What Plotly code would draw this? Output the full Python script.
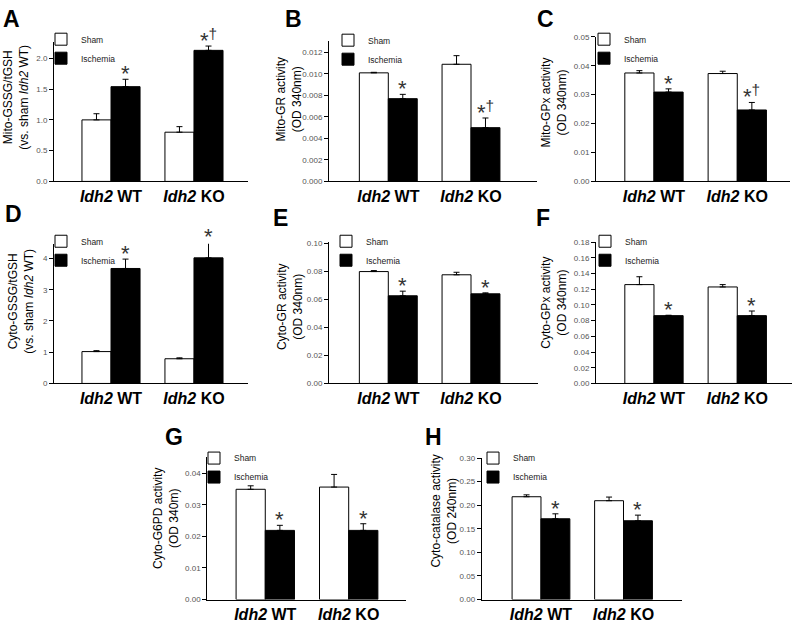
import plotly.graph_objects as go

W, H = 796, 624
FONT = "Liberation Sans, Arial, sans-serif"

# ---------------- data ----------------
group_labels = ["<i>Idh2</i> WT", "<i>Idh2</i> KO"]
series_names = ["Sham", "Ischemia"]

A_sham = [1.00, 0.80];        A_sham_err = [0.10, 0.09]
A_isch = [1.54, 2.13];        A_isch_err = [0.12, 0.07]
A_sig = ["*", "*<sup>†</sup>"]

B_sham = [0.0101, 0.0109];    B_sham_err = [0.00005, 0.0008]
B_isch = [0.0077, 0.0050];    B_isch_err = [0.0004, 0.0009]
B_sig = ["*", "*<sup>†</sup>"]

C_sham = [0.0375, 0.0373];    C_sham_err = [0.0008, 0.0008]
C_isch = [0.0309, 0.0247];    C_isch_err = [0.0011, 0.0026]
C_sig = ["*", "*<sup>†</sup>"]

D_sham = [1.02, 0.79];        D_sham_err = [0.03, 0.03]
D_isch = [3.68, 4.02];        D_isch_err = [0.30, 0.51]
D_sig = ["*", "*"]

E_sham = [0.0799, 0.0776];    E_sham_err = [0.0007, 0.0018]
E_isch = [0.0626, 0.0640];    E_isch_err = [0.0033, 0.0007]
E_sig = ["*", "*"]

F_sham = [0.1258, 0.1228];    F_sham_err = [0.0100, 0.0030]
F_isch = [0.0863, 0.0863];    F_isch_err = [0.0005, 0.0059]
F_sig = ["*", "*"]

G_sham = [0.0349, 0.0356];    G_sham_err = [0.0011, 0.0040]
G_isch = [0.0219, 0.0219];    G_isch_err = [0.0016, 0.0021]
G_sig = ["*", "*"]

H_sham = [0.218, 0.2096];     H_sham_err = [0.0040, 0.0077]
H_isch = [0.1713, 0.1671];    H_isch_err = [0.0105, 0.0119]
H_sig = ["*", "*"]

# ---------------- panel layout (pixels) ----------------
panels = [
    dict(L="A", title="Mito-GSSG/tGSH<br>(vs. sham <i>Idh2</i> WT)", s=A_sham, se=A_sham_err, i=A_isch, ie=A_isch_err, sig=A_sig,
         yr=[0, 2.27], dt=0.5, fmt=".1f", x0=54, x1=248, top=38.3, bot=180, xr=[-0.687, 1.651],
         lab=(1, 0), leg=(55, 37), tt=(16, 95)),
    dict(L="B", title="Mito-GR activity<br>(OD 340nm)", s=B_sham, se=B_sham_err, i=B_isch, ie=B_isch_err, sig=B_sig,
         yr=[0, 0.01305], dt=0.002, fmt=".3f", x0=329, x1=537, top=37.7, bot=180, xr=[-0.717, 1.798],
         lab=(283, 0), leg=(342, 38), tt=(289, 97)),
    dict(L="C", title="Mito-GPx activity<br>(OD 340nm)", s=C_sham, se=C_sham_err, i=C_isch, ie=C_isch_err, sig=C_sig,
         yr=[0, 0.05], dt=0.01, fmt=".2f", x0=596, x1=790, top=33.3, bot=180, xr=[-0.696, 1.633],
         lab=(535, 0), leg=(598, 37), tt=(554, 100)),
    dict(L="D", title="Cyto-GSSG/tGSH<br>(vs. sham <i>Idh2</i> WT)", s=D_sham, se=D_sham_err, i=D_isch, ie=D_isch_err, sig=D_sig,
         yr=[0, 4.47], dt=1, fmt="d", x0=54, x1=248, top=243.3, bot=385, xr=[-0.687, 1.651],
         lab=(3, 198), leg=(55, 242), tt=(21, 302)),
    dict(L="E", title="Cyto-GR activity<br>(OD 340nm)", s=E_sham, se=E_sham_err, i=E_isch, ie=E_isch_err, sig=E_sig,
         yr=[0, 0.101], dt=0.02, fmt=".2f", x0=329, x1=538, top=241.5, bot=385, xr=[-0.717, 1.81],
         lab=(271, 202), leg=(340, 242), tt=(289.5, 307)),
    dict(L="F", title="Cyto-GPx activity<br>(OD 340nm)", s=F_sham, se=F_sham_err, i=F_isch, ie=F_isch_err, sig=F_sig,
         yr=[0, 0.18], dt=0.02, fmt=".2f", x0=596, x1=792, top=241.5, bot=385, xr=[-0.696, 1.657],
         lab=(534, 202), leg=(599, 242), tt=(554, 303)),
    dict(L="G", title="Cyto-G6PD activity<br>(OD 340m)", s=G_sham, se=G_sham_err, i=G_isch, ie=G_isch_err, sig=G_sig,
         yr=[0, 0.045], dt=0.01, fmt=".2f", x0=207.3, x1=406, top=460, bot=604.3, xr=[-0.695, 1.687],
         lab=(163, 424), leg=(208, 462), tt=(166.5, 522)),
    dict(L="H", title="Cyto-catalase activity<br>(OD 240nm)", s=H_sham, se=H_sham_err, i=H_isch, ie=H_isch_err, sig=H_sig,
         yr=[0, 0.30], dt=0.05, fmt=".2f", x0=481.7, x1=681.7, top=460.7, bot=604.3, xr=[-0.718, 1.705],
         lab=(423, 424), leg=(487, 462), tt=(444, 515)),
]

fig = go.Figure()
layout = dict(
    width=W, height=H, margin=dict(l=0, r=0, t=0, b=0),
    paper_bgcolor="white", plot_bgcolor="white",
    barmode="group", bargap=0.30, bargroupgap=0.0,
    font=dict(family=FONT, color="black"),
)
annotations = []
xpos = [0, 1]

for k, p in enumerate(panels):
    n = "" if k == 0 else str(k + 1)
    xa, ya = "x" + n, "y" + n
    lg = "legend" + n
    err_style = dict(type="data", symmetric=False, color="black", thickness=1, width=3)
    fig.add_trace(go.Bar(
        x=xpos, y=p["s"], name=series_names[0], xaxis=xa, yaxis=ya, legend=lg, cliponaxis=False,
        marker=dict(color="white", line=dict(color="black", width=1)),
        error_y=dict(array=p["se"], arrayminus=[0, 0], **err_style),
    ))
    fig.add_trace(go.Bar(
        x=xpos, y=p["i"], name=series_names[1], xaxis=xa, yaxis=ya, legend=lg, cliponaxis=False,
        marker=dict(color="black", line=dict(color="black", width=1)),
        error_y=dict(array=p["ie"], arrayminus=[0, 0], **err_style),
    ))
    layout["xaxis" + n] = dict(
        domain=[p["x0"] / W, p["x1"] / W], anchor=ya, range=p["xr"],
        tickvals=xpos, ticktext=group_labels, ticks="",
        showline=True, linecolor="black", linewidth=1, showgrid=False, zeroline=False,
        tickfont=dict(size=16, family=FONT, color="black", weight="bold"),
        fixedrange=True,
    )
    layout["yaxis" + n] = dict(
        domain=[1 - p["bot"] / H, 1 - p["top"] / H], anchor=xa, range=p["yr"],
        dtick=p["dt"], tick0=0, tickformat=p["fmt"],
        ticks="outside", ticklen=4, tickcolor="black", tickwidth=1,
        showline=True, linecolor="black", linewidth=1, showgrid=False, zeroline=False,
        tickfont=dict(size=8, color="#555555", family=FONT),
        fixedrange=True,
    )
    layout[lg] = dict(
        x=(p["leg"][0] - 14) / W, y=1 - (p["leg"][1] - 16) / H, xanchor="left", yanchor="top",
        bgcolor="rgba(0,0,0,0)", borderwidth=0, font=dict(size=8.5, color="#222222", family=FONT),
        itemwidth=30, tracegroupgap=0, traceorder="normal",
    )
    # y-axis title (two lines, rotated)
    annotations.append(dict(
        text=p["title"], x=p["tt"][0] / W, y=1 - p["tt"][1] / H, xref="paper", yref="paper",
        xanchor="center", yanchor="middle", textangle=-90, showarrow=False, align="center",
        font=dict(size=12, family=FONT, color="black"),
    ))
    # panel letter
    annotations.append(dict(
        text="<b>%s</b>" % p["L"], x=p["lab"][0] / W, y=1 - p["lab"][1] / H, xref="paper", yref="paper",
        xanchor="left", yanchor="top", showarrow=False, font=dict(size=23, family=FONT, color="black"),
    ))
    # significance marks over ischemia bars (positioned relative to the axis domain)
    for j in range(2):
        annotations.append(dict(
            text=p["sig"][j], x=xpos[j] + 0.175, y=(p["i"][j] + p["ie"][j]) / p["yr"][1],
            xref=xa, yref=ya + " domain",
            xanchor="center", yanchor="bottom", showarrow=False, yshift=-9,
            font=dict(size=22, family=FONT, color="#333333"),
        ))

layout["annotations"] = annotations
fig.update_layout(**layout)
fig.write_html(
    "out.html",
    config={"displayModeBar": False},
    post_script="document.body.style.margin='0';document.body.style.overflow='hidden';",
)
